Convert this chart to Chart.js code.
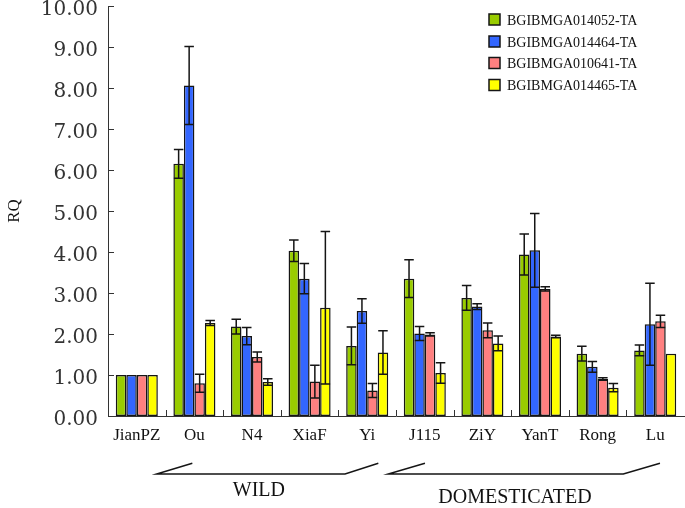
<!DOCTYPE html>
<html><head><meta charset="utf-8">
<script src="https://cdn.jsdelivr.net/npm/chart.js@4"></script>
<style>html,body{margin:0;padding:0;background:#fff;} #wrap{width:685px;height:508px;}</style>
</head><body><div id="wrap"><canvas id="c" width="685" height="508"></canvas></div>
<script>
const categories = ['JianPZ','Ou','N4','XiaF','Yi','J115','ZiY','YanT','Rong','Lu'];
const seriesNames = ['BGIBMGA014052-TA','BGIBMGA014464-TA','BGIBMGA010641-TA','BGIBMGA014465-TA'];
const s014052 = [1.00, 6.15, 2.18, 4.03, 1.71, 3.35, 2.88, 3.94, 1.52, 1.60];
const e014052 = [0, 0.35, 0.18, 0.26, 0.46, 0.46, 0.30, 0.50, 0.18, 0.13];
const s014464 = [1.00, 8.06, 1.95, 3.35, 2.56, 2.01, 2.67, 4.04, 1.20, 2.24];
const e014464 = [0, 0.95, 0.21, 0.37, 0.30, 0.17, 0.07, 0.90, 0.13, 1.00];
const s010641 = [1.00, 0.80, 1.44, 0.84, 0.62, 1.99, 2.09, 3.10, 0.90, 2.31];
const e010641 = [0, 0.22, 0.12, 0.40, 0.17, 0.04, 0.18, 0.05, 0.03, 0.15];
const s014465 = [1.00, 2.27, 0.83, 2.64, 1.55, 1.05, 1.77, 1.94, 0.69, 1.52];
const e014465 = [0, 0.06, 0.08, 1.86, 0.53, 0.25, 0.18, 0.03, 0.10, 0];
const yTickLabels = ['0.00','1.00','2.00','3.00','4.00','5.00','6.00','7.00','8.00','9.00','10.00'];
const groupLabels = ['WILD','DOMESTICATED'];

const seriesValues = [s014052, s014464, s010641, s014465];
const seriesErrors = [e014052, e014464, e010641, e014465];
const seriesColors = ['#99cc00','#3366ff','#ff8080','#ffff00'];
const ink = '#151515';

const decor = {
  id: 'decor',
  afterDatasetsDraw(chart) {
    const ctx = chart.ctx, ys = chart.scales.y;
    ctx.save();
    ctx.strokeStyle = ink; ctx.lineWidth = 1.5;
    chart.data.datasets.forEach((ds, i) => {
      const meta = chart.getDatasetMeta(i);
      meta.data.forEach((bar, j) => {
        const v = seriesValues[i][j], e = seriesErrors[i][j];
        if (!e) return;
        const yt = ys.getPixelForValue(v + e), yb = ys.getPixelForValue(v - e);
        const hw = bar.width / 2 - 0.5;
        ctx.beginPath();
        ctx.moveTo(bar.x, yt); ctx.lineTo(bar.x, yb);
        ctx.moveTo(bar.x - hw, yt); ctx.lineTo(bar.x + hw, yt);
        ctx.moveTo(bar.x - hw, yb); ctx.lineTo(bar.x + hw, yb);
        ctx.stroke();
      });
    });
    ctx.restore();
  },
  afterDraw(chart) {
    const ctx = chart.ctx, xs = chart.scales.x, ys = chart.scales.y, a = chart.chartArea;
    ctx.save();
    // inward ticks
    ctx.strokeStyle = '#333'; ctx.lineWidth = 1;
    ctx.beginPath();
    ys.ticks.forEach(t => {
      const y = Math.round(ys.getPixelForValue(t.value)) + 0.5;
      ctx.moveTo(a.left, y); ctx.lineTo(a.left + 6, y);
    });
    for (let i = 1; i < categories.length; i++) {
      const x = Math.round(xs.getPixelForValue(i - 0.5)) + 0.5;
      ctx.moveTo(x, a.bottom); ctx.lineTo(x, a.bottom - 6);
    }
    ctx.stroke();
    // legend
    const lx = a.right - 195;
    const tops = [14, 36, 57.5, 79.5];
    ctx.font = '14px "Liberation Serif"';
    ctx.textBaseline = 'middle'; ctx.textAlign = 'left';
    seriesNames.forEach((n, i) => {
      ctx.fillStyle = seriesColors[i];
      ctx.fillRect(lx, tops[i], 11, 11);
      ctx.strokeStyle = ink; ctx.lineWidth = 1.5;
      ctx.strokeRect(lx, tops[i], 11, 11);
      ctx.fillStyle = '#111';
      ctx.fillText(n, lx + 18, tops[i] + 7);
    });
    // group brackets
    const yLow = a.bottom + 58, yHigh = a.bottom + 47.3;
    const P = v => xs.getPixelForValue(v);
    ctx.strokeStyle = ink; ctx.lineWidth = 1.5;
    ctx.beginPath();
    ctx.moveTo(P(0.964), yHigh); ctx.lineTo(P(0.345), yLow); ctx.lineTo(P(3.615), yLow); ctx.lineTo(P(4.193), yHigh);
    ctx.moveTo(P(5.003), yHigh); ctx.lineTo(P(4.366), yLow); ctx.lineTo(P(8.446), yLow); ctx.lineTo(P(9.083), yHigh);
    ctx.stroke();
    ctx.fillStyle = '#111';
    ctx.font = '20px "Liberation Serif"';
    ctx.textAlign = 'center';
    ctx.fillText(groupLabels[0], P(2.12), a.bottom + 75);
    ctx.fillText(groupLabels[1], P(6.566), a.bottom + 82);
    ctx.restore();
  }
};

new Chart(document.getElementById('c'), {
  type: 'bar',
  data: {
    labels: categories,
    datasets: seriesNames.map((n, i) => ({
      label: n,
      data: seriesValues[i],
      backgroundColor: seriesColors[i],
      borderColor: ink,
      borderWidth: 1.5,
      borderSkipped: false,
      categoryPercentage: 0.73,
      barPercentage: 1.0
    }))
  },
  options: {
    responsive: false,
    animation: false,
    devicePixelRatio: 1,
    layout: { padding: { left: 0, top: 6, right: 1, bottom: 0 } },
    plugins: { legend: { display: false }, tooltip: { enabled: false } },
    scales: {
      x: {
        offset: true,
        grid: { display: false, drawTicks: false },
        border: { display: true, color: '#333', width: 1 },
        ticks: { color: '#111', font: { family: 'Liberation Serif', size: 17 }, padding: 9, maxRotation: 0, autoSkip: false },
        afterFit(s) { s.height = 92; s.paddingLeft = 0; s.paddingRight = 0; }
      },
      y: {
        min: 0, max: 10,
        grid: { display: false, drawTicks: false },
        border: { display: true, color: '#333', width: 1 },
        ticks: { stepSize: 1, padding: 10, labelOffset: 4, color: '#333',
          font: { family: 'DejaVu Serif', size: 20 },
          callback: (v, i) => yTickLabels[i] },
        title: { display: true, text: 'RQ', color: '#111', font: { family: 'Liberation Serif', size: 17 }, padding: { top: 4, bottom: 0 } },
        afterFit(s) { s.width = 108; s.paddingTop = 0; s.paddingBottom = 0; }
      }
    }
  },
  plugins: [decor]
});
</script>
</body></html>
